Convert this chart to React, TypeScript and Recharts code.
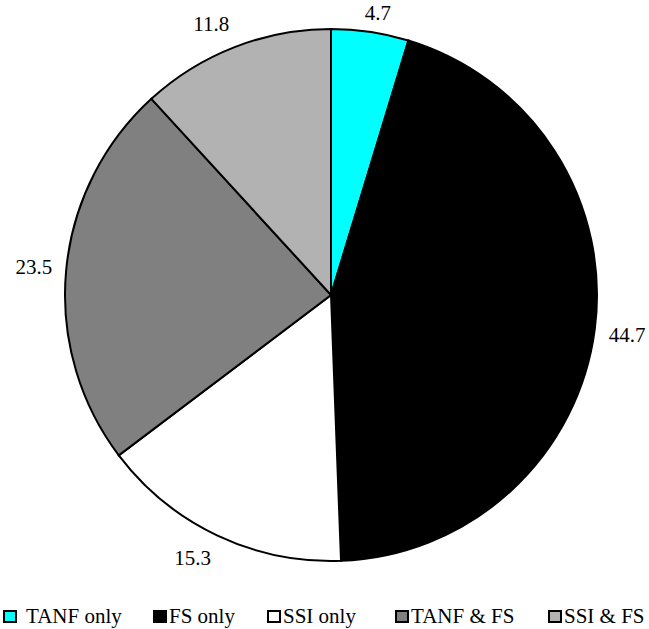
import { PieChart, Pie, Cell, Legend } from "recharts";

const categories = ["TANF only", "FS only", "SSI only", "TANF & FS", "SSI & FS"];
const shares = [4.7, 44.7, 15.3, 23.5, 11.8];
const sliceColors = ["#00FFFF", "#000000", "#FFFFFF", "#808080", "#B2B2B2"];

const chartData = categories.map((name, i) => ({ name, value: shares[i] }));

const SERIF = "Liberation Serif, serif";
const RAD = Math.PI / 180;
const FONT = 21;

// places the label box just outside the rim, nearest corner toward the slice
function renderLabel(props: any) {
  const { cx, cy, midAngle, outerRadius, value } = props;
  const sx = Math.cos(-midAngle * RAD);
  const sy = Math.sin(-midAngle * RAD);
  const text = Number(value).toFixed(1);
  const w = ((text.length - 1) * 0.5 + 0.25) * FONT;
  const h = FONT;
  const k = (v: number) => Math.max(-1, Math.min(1, v * 3));
  const r = outerRadius + 14;
  const x = cx + r * sx + (k(sx) * w) / 2;
  // keep the top label inside the page
  const y = Math.max(FONT / 2 + 2, cy + r * sy + (k(sy) * h) / 2);
  return (
    <text
      x={x}
      y={y}
      textAnchor="middle"
      dominantBaseline="central"
      fill="#000"
      fontSize={FONT}
      fontFamily={SERIF}
    >
      {text}
    </text>
  );
}

// legend slots as laid out in the original export
const legendLeft = [3, 153, 267, 395, 548];

function LegendContent() {
  return (
    <div style={{ position: "relative", width: 649, height: 24, fontFamily: SERIF, fontSize: FONT, color: "#000" }}>
      {categories.map((c, i) => (
        <div
          key={c}
          style={{
            position: "absolute",
            left: legendLeft[i],
            top: 0,
            height: 24,
            display: "flex",
            alignItems: "center",
            whiteSpace: "nowrap",
          }}
        >
          <span
            style={{
              display: "inline-block",
              width: 10,
              height: 9,
              border: "2px solid #000",
              background: sliceColors[i],
              marginRight: i === 0 ? 9 : 2,
            }}
          />
          <span>{c}</span>
        </div>
      ))}
    </div>
  );
}

export default function App() {
  return (
    <div style={{ position: "absolute", left: 0, top: 0, width: 649, height: 629, background: "#fff" }}>
      <PieChart width={649} height={629} margin={{ top: 0, right: 0, bottom: 0, left: 0 }}>
        <Pie
          data={chartData}
          dataKey="value"
          nameKey="name"
          cx={331}
          cy={295}
          outerRadius={266}
          startAngle={90}
          endAngle={-270}
          stroke="#000"
          strokeWidth={2}
          label={renderLabel}
          labelLine={false}
          isAnimationActive={false}
        >
          {chartData.map((d, i) => (
            <Cell key={d.name} fill={sliceColors[i]} />
          ))}
        </Pie>
        <Legend
          content={() => <LegendContent />}
          wrapperStyle={{ position: "absolute", left: 0, top: 604, width: 649 }}
        />
      </PieChart>
    </div>
  );
}
